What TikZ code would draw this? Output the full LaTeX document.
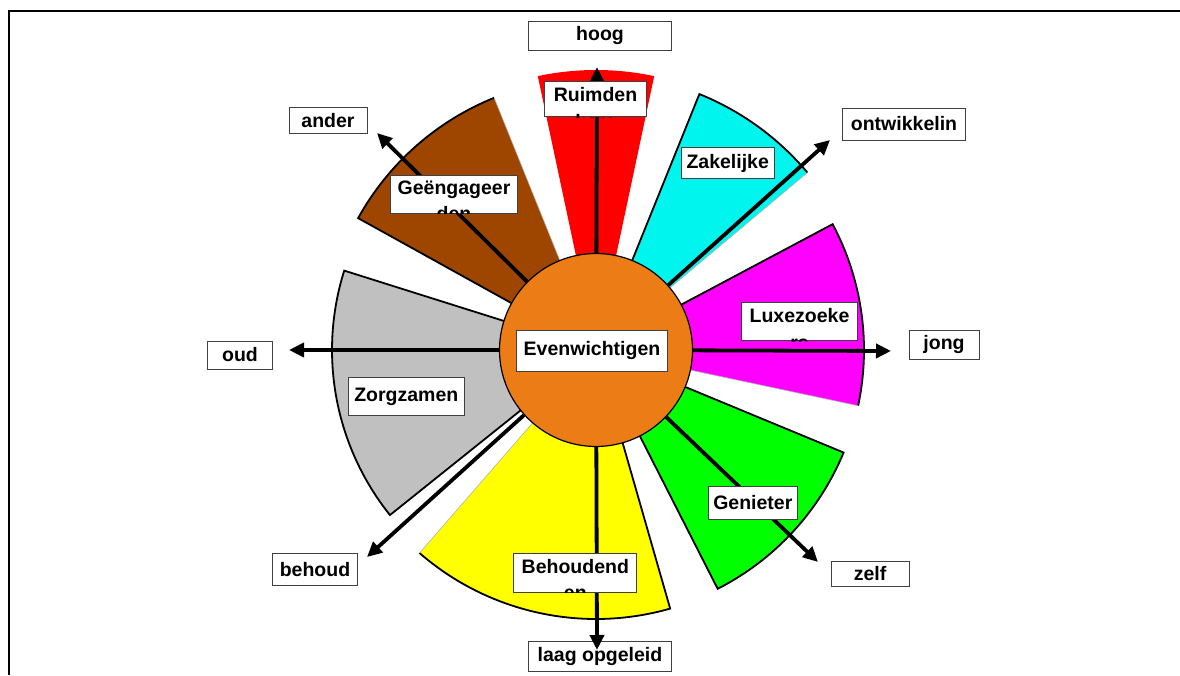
\documentclass[tikz,border=0pt]{standalone}
\usepackage{fontspec}
\setmainfont{Liberation Sans}
\usetikzlibrary{arrows.meta, positioning, calc}

\definecolor{kern}{RGB}{236,124,22}
\definecolor{bruin}{RGB}{158,70,0}
\definecolor{rood}{RGB}{255,0,0}
\definecolor{cyaan}{RGB}{0,245,238}
\definecolor{paars}{RGB}{255,0,255}
\definecolor{groen}{RGB}{0,255,0}
\definecolor{geel}{RGB}{255,255,0}
\definecolor{grijs}{RGB}{192,192,192}

% box with text that runs out of it (cut off at the box edge)
\newcommand{\cutlabel}[5]{%
  \node[labelbox, minimum width=#3, minimum height=#4] (#1) at #2 {};
  \begin{scope}
    \clip (#1.south west) rectangle (#1.north east);
    \node[labeltext, anchor=north, font=\bfseries\fontsize{19.5}{26.5}\selectfont] at ([yshift=-6pt]#1.north) {#5};
  \end{scope}}

\begin{document}
\begin{tikzpicture}[x=1pt, y=1pt, >={Triangle[length=15pt, width=14pt]},
    wedge/.style={draw=black, line width=1.8pt, line join=miter},
    hair/.style={draw=black!30, line width=0.6pt},
    axis/.style={->, line width=3.8pt},
    labelbox/.style={draw=black!75, line width=0.8pt, fill=white, inner sep=0pt},
    labeltext/.style={font=\bfseries\fontsize{19.5}{23}\selectfont, align=center, inner sep=0pt}]

                \useasboundingbox (0,0) rectangle (1180,675);

                % Frame
                \draw[line width=1.3pt] (9,0) -- (9,664) -- (1180,664);

                \coordinate (m) at (596,325);

                % Wedges
                \fill[rood] (m) -- ++(78:280) arc[start angle=78, end angle=102, radius=280] -- cycle;

                \fill[bruin] (m) -- ++(112:272) arc[start angle=112, end angle=151, radius=272] -- cycle;
                \draw[wedge] (m) -- ++(151:272) arc[start angle=151, end angle=112, radius=272];
                \draw[hair] (m) -- ++(112:272);

                \fill[cyaan] (m) -- ++(40:276) arc[start angle=40, end angle=68, radius=276] -- cycle;
                \draw[wedge] (m) -- ++(68:276) arc[start angle=68, end angle=40, radius=276];
                \draw[hair] (m) -- ++(40:276);

                \fill[paars] (m) -- ++(-12:268) arc[start angle=-12, end angle=28, radius=268] -- cycle;
                \draw[wedge] (m) -- ++(28:268) arc[start angle=28, end angle=-12, radius=268];
                \draw[hair] (m) -- ++(-12:268);

                \filldraw[wedge, fill=groen] (m) -- ++(-63:268) arc[start angle=-63, end angle=-22.5, radius=268] -- cycle;

                \fill[geel] (m) -- ++(-131:269) arc[start angle=-131, end angle=-74, radius=269] -- cycle;
                \draw[wedge] (m) -- ++(-74:269) arc[start angle=-74, end angle=-131, radius=269];
                \draw[hair] (m) -- ++(-131:269);

                \filldraw[wedge, fill=grijs] (m) -- ++(162.5:264) arc[start angle=162.5, end angle=218.7, radius=264] -- cycle;

                % Core
                \node[circle, draw, fill=kern, line width=1.2pt, minimum size=193pt, inner sep=0pt] (core) at (m) {};

                % Axis labels
                \node[labelbox, labeltext, minimum width=143pt, minimum height=29pt] (hoog) at (600,639) {hoog};
                \node[labelbox, labeltext, minimum width=123pt, minimum height=32pt] (ontw) at (904,551) {ontwikkelin};
                \node[labelbox, labeltext, minimum width=70pt, minimum height=29pt] (jong) at (944,330) {jong};
                \node[labelbox, labeltext, minimum width=78pt, minimum height=25pt] (zelf) at (870,101) {zelf};
                \node[labelbox, labeltext, minimum width=143pt, minimum height=30pt] (laag) at (600,19) {laag opgeleid};
                \node[labelbox, labeltext, minimum width=85pt, minimum height=32pt] (behoud) at (315,105.5) {behoud};
                \node[labelbox, labeltext, minimum width=65pt, minimum height=28pt] (oud) at (240,320) {oud};
                \node[labelbox, labeltext, minimum width=78pt, minimum height=26pt] (ander) at (328,554.5) {ander};

                % Arrow ends
                \coordinate (tip-hoog) at (597,608);
                \coordinate (tip-ontw) at (830,535);
                \coordinate (tip-jong) at (891,324);
                \coordinate (tip-zelf) at (818,113);
                \coordinate (tip-laag) at (597,25);
                \coordinate (tip-behoud) at (367,118);
                \coordinate (tip-oud) at (289,325);
                \coordinate (tip-ander) at (377,542);

                % Axes
                \draw[axis] (core) -- (tip-hoog);
                \draw[axis] (core) -- (tip-ontw);
                \draw[axis] (core) -- (tip-jong);
                \draw[axis] (core) -- (tip-zelf);
                \draw[axis] (core) -- (tip-laag);
                \draw[axis] (core) -- (tip-behoud);
                \draw[axis] (core) -- (tip-oud);
                \draw[axis] (core) -- (tip-ander);

                % Segment labels
                \cutlabel{ruim}{(595.5,575.8)}{102pt}{35pt}{Ruimden\\kers}
                \cutlabel{geeng}{(454,481)}{127pt}{38pt}{Geëngageer\\den}
                \node[labelbox, labeltext, minimum width=93pt, minimum height=31pt] (zak) at (727.7,511.7) {Zakelijke};
                \node[labelbox, labeltext, minimum width=116pt, minimum height=38pt] (zorg) at (406.3,278.5) {Zorgzamen};
                \cutlabel{lux}{(799.5,353.3)}{116pt}{38pt}{Luxezoeke\\rs}
                \node[labelbox, labeltext, minimum width=89pt, minimum height=33pt] (gen) at (752.8,172.5) {Genieter};
                \cutlabel{beh}{(575.3,102)}{123pt}{39pt}{Behoudend\\en}
                \node[labelbox, labeltext, minimum width=151pt, minimum height=41pt] (even) at (592,324) {Evenwichtigen};

\end{tikzpicture}
\end{document}
